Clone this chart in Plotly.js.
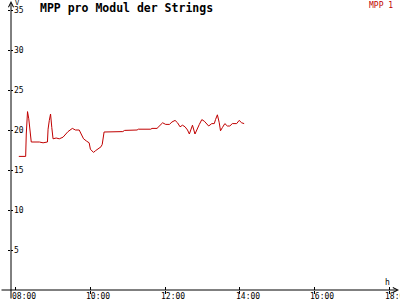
<!DOCTYPE html>
<html><head><meta charset="utf-8">
<script src="https://cdn.plot.ly/plotly-3.0.1.min.js"></script>
<style>html,body{margin:0;padding:0;background:#fff}#chart{width:400px;height:300px}</style>
</head><body><div id="chart"></div>
<script>
const day = '2024-01-01 ';
const times = ['08:05','08:16','08:17','08:19','08:21','08:25','08:38','08:44','08:51','08:52','08:54','08:56','08:58','09:00','09:05','09:10','09:16','09:24','09:31','09:36','09:42','09:45','09:49','09:54','09:58','10:00','10:05','10:08','10:13','10:17','10:19','10:22','10:52','10:55','11:15','11:17','11:37','11:39','11:47','11:53','11:56','12:01','12:07','12:11','12:16','12:20','12:24','12:28','12:32','12:36','12:39','12:44','12:48','12:55','12:59','13:03','13:07','13:10','13:15','13:19','13:21','13:24','13:27','13:29','13:32','13:36','13:40','13:44','13:48','13:55','13:59','14:03','14:07'];
const mpp1 = [16.7,16.7,19.5,22.3,21.4,18.5,18.5,18.4,18.5,20.1,21.2,22.0,20.3,18.9,19.0,18.9,19.1,19.8,20.2,20.0,20.0,19.6,18.9,18.6,18.4,17.6,17.2,17.4,17.7,17.9,18.2,19.75,19.8,19.95,20.0,20.1,20.1,20.2,20.2,20.7,20.9,20.7,20.7,21.0,21.2,20.9,20.4,20.6,20.4,20.0,19.5,20.6,19.5,20.7,21.3,21.1,20.8,20.5,20.8,20.8,21.3,21.9,20.9,19.9,20.3,20.8,20.5,20.5,20.8,20.8,21.2,20.9,20.8];
const seriesName = 'MPP 1';
const titleText = 'MPP pro Modul der Strings';
const xTickTimes = ['08:00','10:00','12:00','14:00','16:00','18:00'];
const yTickVals = [5,10,15,20,25,30,35];
const yUnit = 'V';
const xUnit = 'h';
const xRangeTimes = ['07:52:27','18:17:22'];

const W = 400, H = 300, L = 11, B = 10;
const pw = W - L, ph = H - B;
const pxPerUnit = 8;
const mono = 'DejaVu Sans Mono, monospace';
const red = '#c00000';

const xs = times.map(t => day + t);
const xTickVals = xTickTimes.map(t => day + t);
const xRange = xRangeTimes.map(t => day + t);
const yRange = [0, ph / pxPerUnit];

const traces = [
  {x: xs, y: mpp1, name: seriesName, type: 'scatter', mode: 'lines',
   line: {color: red, width: 1}, showlegend: false, hoverinfo: 'skip'},
  {x: [xs[0]], y: [mpp1[0]], xaxis: 'x2', yaxis: 'y2', mode: 'markers',
   marker: {opacity: 0}, showlegend: false, hoverinfo: 'skip'}
];

const axCommon = {showgrid: false, zeroline: false, showline: false, tickcolor: '#000', tickwidth: 1,
  tickfont: {family: mono, size: 8, color: '#000'}, fixedrange: true};

const xLabelAnns = xTickTimes.map((t, i) => ({
  xref: 'x', yref: 'paper', x: xTickVals[i], y: 0, xanchor: 'left', yanchor: 'top',
  xshift: -5, yshift: -1, text: t, showarrow: false, borderpad: 0,
  font: {family: mono, size: 8, color: '#000'}
}));

const layout = {
  width: W, height: H,
  margin: {l: L, r: 0, t: 0, b: B, pad: 0},
  paper_bgcolor: '#fff', plot_bgcolor: '#fff',
  showlegend: false,
  title: {text: titleText, font: {family: mono, size: 11.5, weight: 'bold', color: '#000'},
          xref: 'container', x: 40 / W, xanchor: 'left', yref: 'container', y: 1 - 8 / H, yanchor: 'middle'},
  xaxis: Object.assign({}, axCommon, {type: 'date', range: xRange, tickmode: 'array', tickvals: xTickVals,
          ticks: 'outside', ticklen: 3, showticklabels: false}),
  xaxis2: Object.assign({}, axCommon, {type: 'date', range: xRange, overlaying: 'x', anchor: 'y', tickmode: 'array', tickvals: xTickVals,
          ticks: 'inside', ticklen: 3, showticklabels: false}),
  yaxis: Object.assign({}, axCommon, {range: yRange, tickmode: 'array', tickvals: yTickVals, ticktext: yTickVals.map(String),
          ticks: 'outside', ticklen: 2, ticklabelposition: 'inside'}),
  yaxis2: Object.assign({}, axCommon, {range: yRange, overlaying: 'y', anchor: 'x', tickmode: 'array', tickvals: yTickVals,
          ticks: 'inside', ticklen: 2, showticklabels: false}),
  annotations: [
    {xref: 'paper', yref: 'paper', x: 0, y: 1, ax: 0, ay: H, axref: 'pixel', ayref: 'pixel', text: '', showarrow: true,
     arrowhead: 5, arrowsize: 1, arrowwidth: 1, arrowcolor: '#000', standoff: 0},
    {xref: 'paper', yref: 'paper', x: 1, y: 0, ax: -W, ay: 0, text: '', showarrow: true,
     arrowhead: 5, arrowsize: 1, arrowwidth: 1, arrowcolor: '#000', standoff: 0},
    {xref: 'paper', yref: 'paper', x: 1, y: 1, xanchor: 'right', yanchor: 'middle', xshift: -5, yshift: -5,
     text: seriesName, showarrow: false, font: {family: mono, size: 8, color: red}},
    {xref: 'paper', yref: 'paper', x: 0, y: 1, xanchor: 'left', yanchor: 'middle', xshift: 2, yshift: -3,
     text: yUnit, showarrow: false, font: {family: mono, size: 7, color: '#000'}},
    {xref: 'paper', yref: 'paper', x: 1, y: 0, xanchor: 'center', yanchor: 'middle', xshift: -13, yshift: 8,
     text: xUnit, showarrow: false, font: {family: mono, size: 8, color: '#000'}}
  ].concat(xLabelAnns)
};

Plotly.newPlot('chart', traces, layout, {staticPlot: true, displayModeBar: false});
</script>
</body></html>
